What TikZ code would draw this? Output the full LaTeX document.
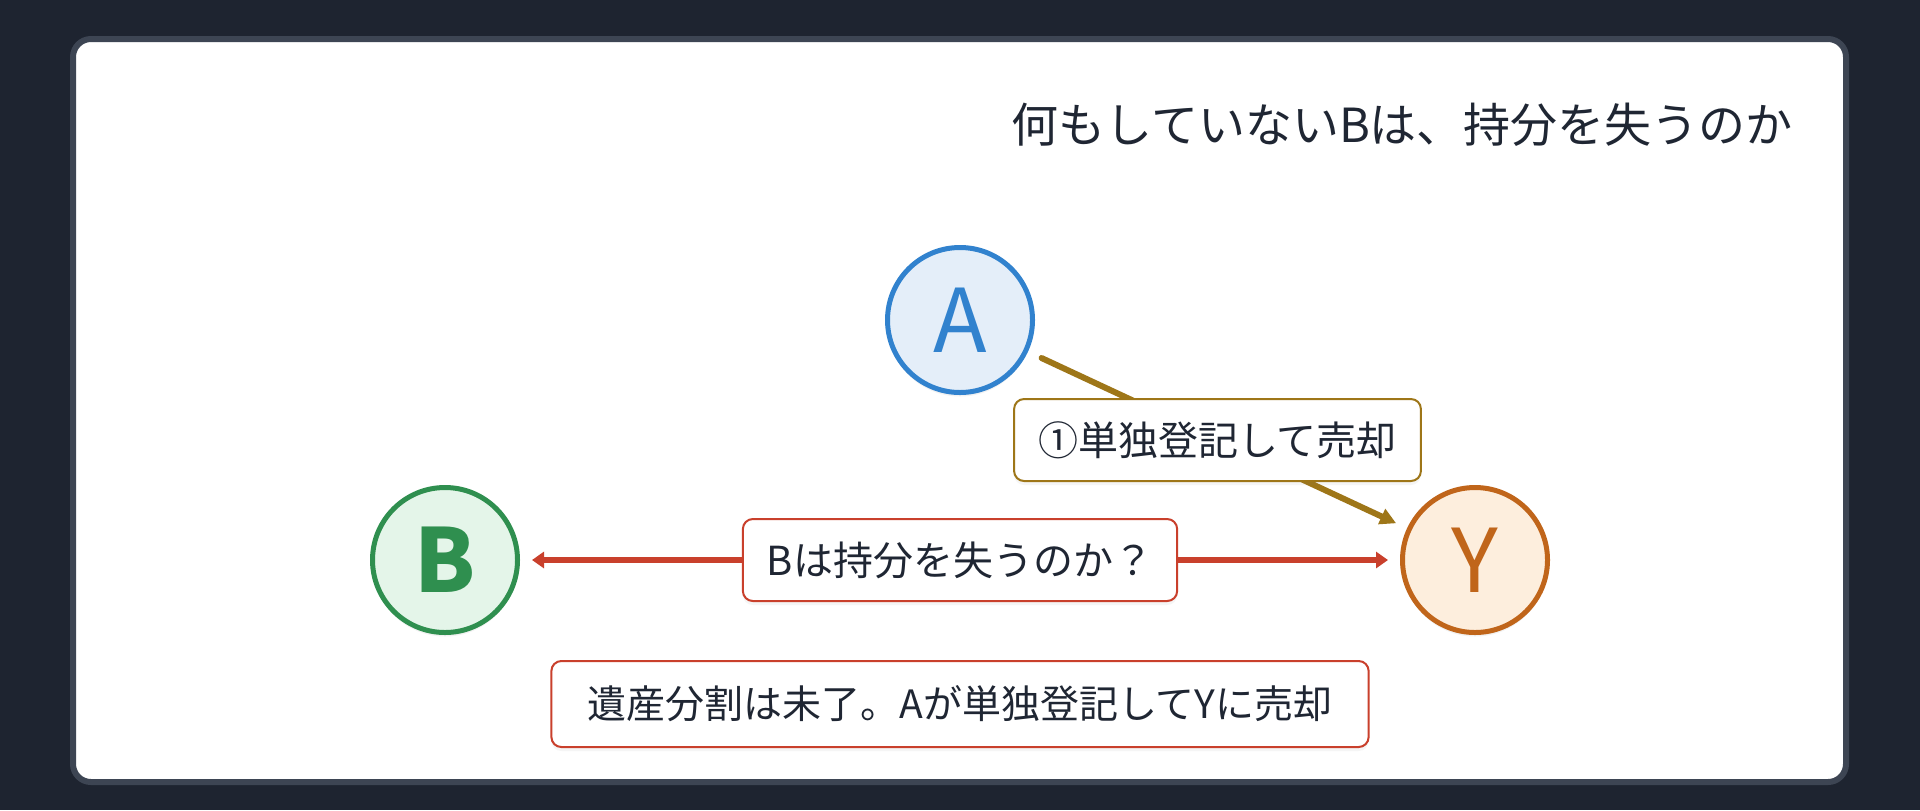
\documentclass[tikz,border=0pt]{standalone}
\usepackage{fontspec}
\setmainfont{Noto Sans CJK JP}
\usetikzlibrary{positioning,arrows.meta,shadows}
\definecolor{bgdark}{HTML}{1E2430}
\definecolor{cardedge}{HTML}{3D4553}
\definecolor{ink}{HTML}{1F2633}
\definecolor{blueline}{HTML}{3182CE}
\definecolor{bluefill}{HTML}{E4EEF9}
\definecolor{greenline}{HTML}{2F8F4F}
\definecolor{greenfill}{HTML}{E4F5E9}
\definecolor{orangeline}{HTML}{C0651A}
\definecolor{orangefill}{HTML}{FDEEDD}
\definecolor{oliveline}{HTML}{9E7618}
\definecolor{redline}{HTML}{C9402C}

\begin{document}
\begin{tikzpicture}[x=0.5pt,y=-0.5pt,
			person/.style={circle,draw,minimum size=72.5pt,line width=2.5pt,inner sep=0pt,
				font=\fontsize{44pt}{44pt}\selectfont,
				drop shadow={shadow xshift=0pt,shadow yshift=-2pt,opacity=0.1}},
			tag/.style={draw,fill=white,rounded corners=5pt,line width=1pt,text=ink,
				shorten <=0pt,shorten >=0pt,minimum height=41pt,inner xsep=12pt,
				font=\fontsize{20pt}{20pt}\selectfont,
				drop shadow={shadow xshift=0pt,shadow yshift=-2pt,opacity=0.08}},
			link/.style={line width=3pt,line cap=round}]
			% backdrop and card
			\fill[bgdark] (0,0) rectangle (1920,810);
			\draw[cardedge,fill=white,line width=3pt,rounded corners=9pt] (73,39) rectangle (1846,782);
			\node[anchor=east,text=ink,font=\fontsize{23.5pt}{23.5pt}\selectfont] (heading) at (1800,125) {何もしていないBは、持分を失うのか};
			% parties
			\node (A) [person,draw=blueline,fill=bluefill,text=blueline] at (960,320) {A};
			\node (B) [person,draw=greenline,fill=greenfill,text=greenline,
				font=\fontsize{44pt}{44pt}\selectfont\bfseries] at (445,560) {B};
			\node (Y) [person,draw=orangeline,fill=orangefill,text=orangeline] at (1475,560) {Y};
			% connectors
			\draw[link,oliveline,-{Triangle[length=8pt,width=8pt]},shorten <=7.5pt,shorten >=6pt]
				(A) -- node (sell) [tag,draw=oliveline] {①単独登記して売却} (Y);
			\draw[link,redline,{Triangle[length=6pt,width=8pt]}-{Triangle[length=6pt,width=8pt]},shorten <=6pt,shorten >=6pt]
				(B) -- node (ask) [tag,draw=redline] {Bは持分を失うのか？} (Y);
			\node (note) [tag,draw=redline,inner xsep=18pt,minimum height=43pt,below=29pt of ask,
				font=\fontsize{19.5pt}{19.5pt}\selectfont] {遺産分割は未了。Aが単独登記してYに売却};
		\end{tikzpicture}
\end{document}
